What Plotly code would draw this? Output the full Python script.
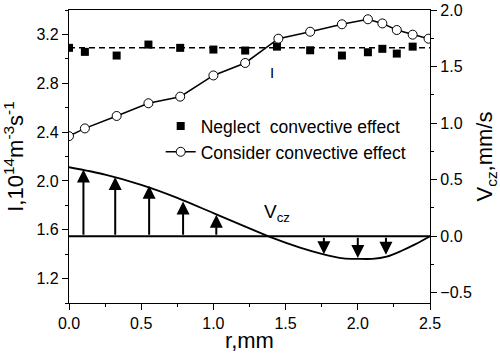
import plotly.graph_objects as go

# ---- data ----
r_neglect = [0.0, 0.11, 0.33, 0.55, 0.77, 1.0, 1.22, 1.44, 1.67, 1.89, 2.07, 2.17, 2.27, 2.38]
I_neglect = [3.09, 3.057, 3.027, 3.117, 3.09, 3.076, 3.068, 3.10, 3.07, 3.027, 3.054, 3.082, 3.043, 3.10]
r_fit = [0.0, 2.5]
I_fit = [3.09, 3.09]

r_consider = [0.0, 0.11, 0.33, 0.55, 0.77, 1.0, 1.22, 1.45, 1.67, 1.89, 2.07, 2.17, 2.27, 2.38, 2.49]
I_consider = [2.367, 2.43, 2.532, 2.636, 2.69, 2.864, 2.966, 3.165, 3.222, 3.283, 3.324, 3.29, 3.236, 3.198, 3.165]

r_v = [0.0, 0.25, 0.5, 0.75, 1.0, 1.25, 1.4, 1.6, 1.75, 1.9, 2.0, 2.1, 2.2, 2.3, 2.4, 2.5]
V_cz = [0.61, 0.545, 0.455, 0.34, 0.205, 0.07, -0.01, -0.10, -0.155, -0.195, -0.2, -0.2, -0.18, -0.13, -0.07, 0.0]
r_zero = [0.0, 2.5]
V_zero = [0.0, 0.0]

r_arrows = [0.10, 0.32, 0.555, 0.79, 1.02, 1.765, 2.0, 2.195]
V_arrows = [0.59, 0.524, 0.447, 0.308, 0.19, -0.158, -0.193, -0.164]

x_ticks = [0.0, 0.5, 1.0, 1.5, 2.0, 2.5]
y_ticks = [1.2, 1.6, 2.0, 2.4, 2.8, 3.2]
y2_ticks = [-0.5, 0.0, 0.5, 1.0, 1.5, 2.0]

FONT = "Liberation Sans, Arial, sans-serif"

fig = go.Figure()

fig.add_trace(go.Scatter(x=r_fit, y=I_fit, mode="lines",
                         line=dict(color="black", width=1.5, dash="6px,4px"),
                         showlegend=False, hoverinfo="skip"))
fig.add_trace(go.Scatter(x=r_neglect, y=I_neglect, mode="markers",
                         marker=dict(symbol="square", size=8, color="black"),
                         name="Neglect  convective effect"))
fig.add_trace(go.Scatter(x=r_consider, y=I_consider, mode="lines+markers",
                         line=dict(color="black", width=1.5),
                         marker=dict(symbol="circle", size=9, color="white",
                                     line=dict(color="black", width=1)),
                         name="Consider convective effect"))
fig.add_trace(go.Scatter(x=r_v, y=V_cz, mode="lines", yaxis="y2",
                         line=dict(color="black", width=1.8, shape="spline", smoothing=0.8),
                         showlegend=False, hoverinfo="skip"))
fig.add_trace(go.Scatter(x=r_zero, y=V_zero, mode="lines", yaxis="y2",
                         line=dict(color="black", width=1.8),
                         showlegend=False, hoverinfo="skip"))

for rx, vy in zip(r_arrows, V_arrows):
    fig.add_annotation(x=rx, y=vy, xref="x", yref="y2",
                       ax=rx, ay=0.0, axref="x", ayref="y2",
                       text="", showarrow=True, arrowhead=2, arrowsize=1.3,
                       arrowwidth=2, arrowcolor="black", standoff=0, startstandoff=0)

fig.add_annotation(x=1.405, y=2.89, xref="x", yref="y", text="I", showarrow=False,
                   font=dict(size=15, color="black", family=FONT))
fig.add_annotation(x=1.44, y=0.21, xref="x", yref="y2",
                   text="V<sub>cz</sub>", showarrow=False,
                   font=dict(size=19, color="black", family=FONT))

fig.update_layout(
    width=500, height=353,
    margin=dict(l=69, r=70, t=10, b=50, autoexpand=False),
    paper_bgcolor="white", plot_bgcolor="white",
    font=dict(family=FONT, color="black", size=16),
    xaxis=dict(range=[0, 2.5], tickvals=x_ticks, tickformat=".1f", automargin=False,
               showline=True, linecolor="black", linewidth=1.2, mirror=True,
               ticks="outside", ticklen=6, tickwidth=1.2, tickcolor="black",
               minor=dict(dtick=0.25, ticks="outside", ticklen=3, tickcolor="black", tickwidth=1.2),
               showgrid=False, zeroline=False,
               title=dict(text="r,mm", font=dict(size=22), standoff=8),
               tickfont=dict(size=16)),
    yaxis=dict(range=[1.0, 3.4], tickvals=y_ticks, tickformat=".1f", automargin=False,
               showline=True, linecolor="black", linewidth=1.2,
               ticks="outside", ticklen=6, tickwidth=1.2, tickcolor="black",
               minor=dict(dtick=0.2, tick0=1.0, ticks="outside", ticklen=3, tickcolor="black", tickwidth=1.2),
               showgrid=False, zeroline=False,
               title=dict(text="I,10<sup>14</sup>m<sup>-3</sup>s<sup>-1</sup>", font=dict(size=22), standoff=6),
               tickfont=dict(size=16)),
    yaxis2=dict(range=[-0.59, 2.0], tickvals=y2_ticks, tickformat=".1f", automargin=False,
                overlaying="y", side="right",
                showline=True, linecolor="black", linewidth=1.2,
                ticks="outside", ticklen=6, tickwidth=1.2, tickcolor="black",
                minor=dict(dtick=0.25, tick0=0, ticks="outside", ticklen=3, tickcolor="black", tickwidth=1.2),
                showgrid=False, zeroline=False,
                title=dict(text="V<sub>cz</sub>,mm/s", font=dict(size=22), standoff=6),
                tickfont=dict(size=16)),
    legend=dict(x=0.254, y=0.665, xanchor="left", yanchor="top",
                bgcolor="rgba(0,0,0,0)", font=dict(size=17.5, family=FONT),
                tracegroupgap=0, itemwidth=30),
    showlegend=True,
)

fig.write_html("out.html")
